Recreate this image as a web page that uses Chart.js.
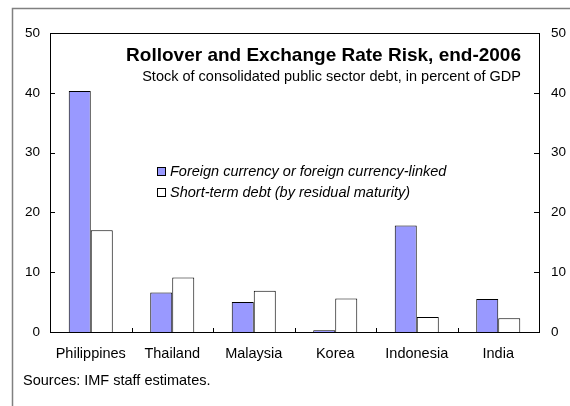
<!DOCTYPE html>
<html>
<head>
<meta charset="utf-8">
<script src="https://cdn.jsdelivr.net/npm/chart.js@4/dist/chart.umd.min.js"></script>
<style>
  html, body { margin: 0; padding: 0; background: #fff; }
  #wrap { position: relative; width: 570px; height: 406px; }
</style>
</head>
<body>
<div id="wrap"><canvas id="mainChart" width="570" height="406"></canvas></div>
<script>
// data
const countries = ['Philippines', 'Thailand', 'Malaysia', 'Korea', 'Indonesia', 'India'];
const foreignCurrency = [40.3, 6.6, 5.0, 0.3, 17.8, 5.5];
const shortTerm = [17.0, 9.1, 6.9, 5.6, 2.5, 2.3];
const yTicks = [0, 10, 20, 30, 40, 50];

const seriesNames = ['Foreign currency or foreign currency-linked', 'Short-term debt (by residual maturity)'];
const titleText = 'Rollover and Exchange Rate Risk, end-2006';
const subtitleText = 'Stock of consolidated public sector debt, in percent of GDP';
const sourceText = 'Sources: IMF staff estimates.';

const FONT = '"Liberation Sans", Arial, sans-serif';

/* ===== ตกแต่งกรอบ, tick, หัวเรื่อง, legend ===== */
const chromePlugin = {
    id: 'chrome',
    afterDatasetsDraw(chart) {
        const ctx = chart.ctx;
        const a = chart.chartArea;
        const yL = chart.scales.y;
        const x = chart.scales.x;

        ctx.save();
        // outer frame
        ctx.strokeStyle = '#808080';
        ctx.lineWidth = 1.5;
        ctx.strokeRect(12.5, 8.5, 600, 450);

        // plot box
        ctx.strokeStyle = '#000';
        ctx.lineWidth = 1;
        ctx.strokeRect(Math.round(a.left) + 0.5, Math.round(a.top) + 0.5,
            Math.round(a.right - a.left), Math.round(a.bottom - a.top));

        // inward ticks left/right
        ctx.beginPath();
        yTicks.forEach(v => {
            const py = Math.round(yL.getPixelForValue(v)) + 0.5;
            ctx.moveTo(a.left, py); ctx.lineTo(a.left + 5, py);
            ctx.moveTo(a.right, py); ctx.lineTo(a.right - 5, py);
        });
        // category separators at bottom
        for (let i = 1; i < countries.length; i++) {
            const px = Math.round((x.getPixelForValue(i - 1) + x.getPixelForValue(i)) / 2) + 0.5;
            ctx.moveTo(px, a.bottom); ctx.lineTo(px, a.bottom - 4);
        }
        ctx.stroke();

        // title + subtitle
        ctx.fillStyle = '#000';
        ctx.textAlign = 'right';
        ctx.textBaseline = 'middle';
        ctx.font = 'bold 19px ' + FONT;
        ctx.fillText(titleText, 521, 56);
        ctx.font = '14.5px ' + FONT;
        ctx.fillText(subtitleText, 521, 77);

        // legend
        const ds = chart.data.datasets;
        ctx.textAlign = 'left';
        ctx.font = 'italic 14.5px ' + FONT;
        [172, 193].forEach((ly, i) => {
            ctx.fillStyle = ds[i].backgroundColor;
            ctx.fillRect(157.5, ly - 4.5, 8, 8);
            ctx.strokeStyle = '#000';
            ctx.strokeRect(157.5, ly - 4.5, 8, 8);
            ctx.fillStyle = '#000';
            ctx.fillText(seriesNames[i], 170, ly);
        });

        // source
        ctx.font = '14.5px ' + FONT;
        ctx.fillText(sourceText, 23, 381);
        ctx.restore();
    }
};

const tickFont = { family: FONT, size: 13.5 };

new Chart(document.getElementById('mainChart'), {
    type: 'bar',
    data: {
        labels: countries,
        datasets: [{
            label: seriesNames[0],
            data: foreignCurrency,
            backgroundColor: '#9999ff',
            borderColor: '#000',
            borderWidth: 1,
            yAxisID: 'y'
        }, {
            label: seriesNames[1],
            data: shortTerm,
            backgroundColor: '#ffffff',
            borderColor: '#000',
            borderWidth: 1,
            yAxisID: 'y'
        }]
    },
    options: {
        responsive: false,
        animation: false,
        events: [],
        categoryPercentage: 0.54,
        barPercentage: 1,
        layout: { padding: { left: 12, top: 33, right: 0, bottom: 0 } },
        plugins: {
            legend: { display: false },
            tooltip: { enabled: false }
        },
        scales: {
            x: {
                grid: { display: false, drawTicks: false },
                border: { display: false },
                ticks: { font: { family: FONT, size: 14.5 }, color: '#000', padding: 13, maxRotation: 0 },
                afterFit: s => { s.height = 74; }
            },
            y: {
                position: 'left',
                min: 0, max: 50,
                grid: { display: false, drawTicks: false },
                border: { display: false },
                ticks: { stepSize: 10, font: tickFont, color: '#000', padding: 10 },
                afterFit: s => { s.width = 38; }
            },
            y2: {
                position: 'right',
                min: 0, max: 50,
                grid: { display: false, drawTicks: false },
                border: { display: false },
                ticks: { stepSize: 10, font: tickFont, color: '#000', padding: 12 },
                afterFit: s => { s.width = 31; }
            }
        }
    },
    plugins: [chromePlugin]
});
</script>
</body>
</html>
